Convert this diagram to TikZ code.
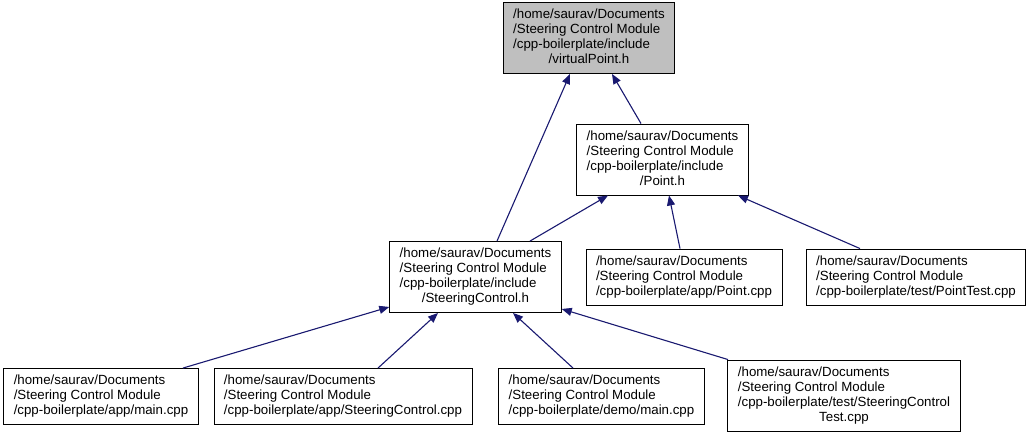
\documentclass[tikz,border=0pt]{standalone}
\usepackage{fontspec}
\setmainfont{Liberation Sans}
\usetikzlibrary{arrows.meta}
\definecolor{edgeblue}{RGB}{25,25,112}
\definecolor{rootgray}{RGB}{191,191,191}
% file label: lines left aligned, the last one may be centred
\newcommand{\pathlines}[1]{\begin{tabular}{@{}l@{}}#1\end{tabular}}
\newcommand{\lastcentered}[1]{\multicolumn{1}{@{}c@{}}{#1}}
\begin{document}
\begin{tikzpicture}[x=1pt, y=-1pt, font=\fontsize{13.3}{15}\selectfont,
  file/.style={draw=black, line width=0.9pt, fill=white, inner xsep=10pt, inner ysep=5.5pt},
  rootfile/.style={file, fill=rootgray},
  dep/.style={-{Triangle[length=10pt,width=8pt]}, draw=edgeblue, line width=1.1pt}]
\useasboundingbox (0,0) rectangle (1032,437);
% headers
\node[rootfile] (vpoint) at (589,38) {\pathlines{/home/saurav/Documents\\/Steering Control Module\\/cpp-boilerplate/include\\\lastcentered{/virtualPoint.h}}};
\node[file] (pointh) at (662.5,159.5) {\pathlines{/home/saurav/Documents\\/Steering Control Module\\/cpp-boilerplate/include\\\lastcentered{/Point.h}}};
\node[file] (sch) at (475.5,277) {\pathlines{/home/saurav/Documents\\/Steering Control Module\\/cpp-boilerplate/include\\\lastcentered{/SteeringControl.h}}};
% sources and tests
\node[file] (pointcpp) at (684,277) {\pathlines{/home/saurav/Documents\\/Steering Control Module\\/cpp-boilerplate/app/Point.cpp}};
\node[file] (pointtest) at (916,277) {\pathlines{/home/saurav/Documents\\/Steering Control Module\\/cpp-boilerplate/test/PointTest.cpp}};
\node[file] (appmain) at (101,396.5) {\pathlines{/home/saurav/Documents\\/Steering Control Module\\/cpp-boilerplate/app/main.cpp}};
\node[file] (appsc) at (343,396.5) {\pathlines{/home/saurav/Documents\\/Steering Control Module\\/cpp-boilerplate/app/SteeringControl.cpp}};
\node[file] (demomain) at (601.5,396.5) {\pathlines{/home/saurav/Documents\\/Steering Control Module\\/cpp-boilerplate/demo/main.cpp}};
\node[file] (sctest) at (844,395.5) {\pathlines{/home/saurav/Documents\\/Steering Control Module\\/cpp-boilerplate/test/SteeringControl\\\lastcentered{Test.cpp}}};
% includes
\draw[dep] ([xshift=21.5pt]sch.north) -- ([xshift=-19pt]vpoint.south);
\draw[dep] ([xshift=-21.5pt]pointh.north) -- ([xshift=23pt]vpoint.south);
\draw[dep] ([xshift=54.5pt]sch.north) -- ([xshift=-54.5pt]pointh.south);
\draw[dep] ([xshift=-4pt]pointcpp.north) -- ([xshift=6.5pt]pointh.south);
\draw[dep] ([xshift=-56pt]pointtest.north) -- ([xshift=75.5pt]pointh.south);
\draw[dep] ([xshift=82pt]appmain.north) -- ([yshift=6pt]sch.south west);
\draw[dep] ([xshift=35pt]appsc.north) -- ([xshift=-37.5pt]sch.south);
\draw[dep] ([xshift=-28.5pt]demomain.north) -- ([xshift=37.5pt]sch.south);
\draw[dep] ([xshift=-116pt]sctest.north) -- ([yshift=4pt]sch.south east);
\end{tikzpicture}
\end{document}
